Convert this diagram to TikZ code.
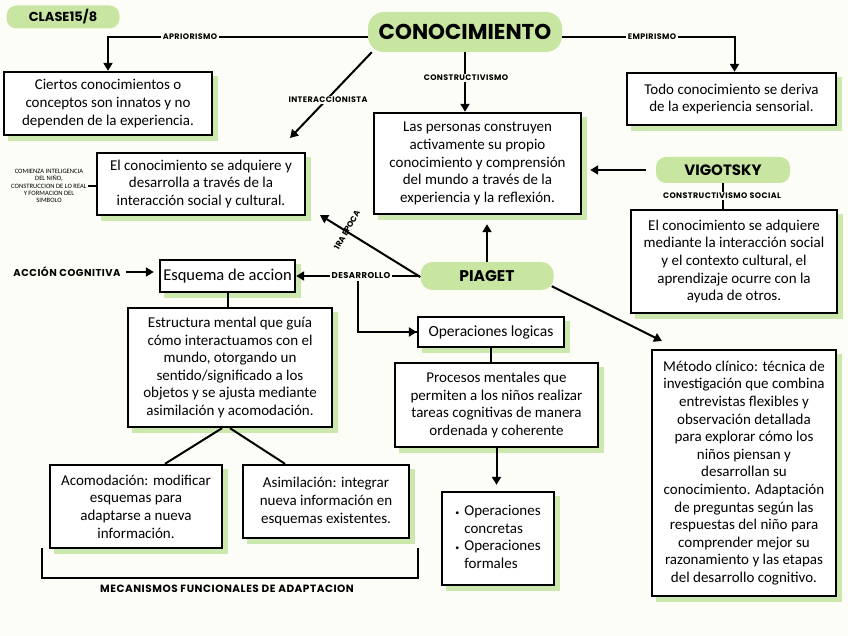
\documentclass[tikz,border=0pt]{standalone}
\usepackage{fontspec}
\setmainfont{Carlito}
\newfontfamily\lab{Poppins}[LetterSpace=5]
\newfontfamily\tit{Poppins}
\usetikzlibrary{arrows.meta,calc}
\definecolor{bg}{HTML}{FDFDF7}
\definecolor{shgreen}{HTML}{CDE8AE}
\definecolor{pillgreen}{HTML}{C8E6A2}
\pgfdeclarelayer{bgl}\pgfdeclarelayer{shl}
\pgfsetlayers{bgl,shl,main}
\begin{document}
\begin{tikzpicture}[x=1pt,y=-1pt,
  box/.style={draw=black, line width=2.4pt, fill=white, align=center,
    font=\fontsize{15}{17.6}\selectfont, inner sep=2pt},
  pill/.style={fill=pillgreen, rounded corners=10pt, align=center, inner sep=2pt},
  lab/.style={font=\lab\bfseries\fontsize{8}{9}\selectfont, fill=bg, inner sep=1.5pt},
  conn/.style={draw=black, line width=2pt},
  arr/.style={conn, -{Triangle[width=9pt,length=8pt]}}
]
\useasboundingbox (0,0) rectangle (848,636);
\begin{pgfonlayer}{bgl}
\fill[bg] (0,0) rectangle (848,636);
\end{pgfonlayer}

% pills
\node[pill, minimum width=113pt, minimum height=23pt, font=\tit\bfseries\fontsize{13}{14}\selectfont] (clase) at (63,17) {CLASE15/8};
\node[pill, minimum width=194pt, minimum height=40pt, rounded corners=16pt, font=\tit\bfseries\fontsize{21.5}{23}\selectfont] (conoc) at (465,32) {CONOCIMIENTO};
\node[pill, minimum width=134pt, minimum height=26pt, font=\tit\bfseries\fontsize{15}{16}\selectfont] (vig) at (723,170) {VIGOTSKY};
\node[pill, minimum width=133pt, minimum height=28pt, rounded corners=12pt, font=\tit\bfseries\fontsize{15.5}{16}\selectfont] (piag) at (487,276) {PIAGET};

% boxes
\node[box, minimum width=208pt, minimum height=63pt] (b1) at (108,103.5) {Ciertos conocimientos o\\conceptos son innatos y no\\dependen de la experiencia.};
\node[box, minimum width=209pt, minimum height=52pt] (b2) at (731.5,99) {Todo conocimiento se deriva\\de la experiencia sensorial.};
\node[box, minimum width=207pt, minimum height=101pt] (b3) at (477.5,163.5) {Las personas construyen\\activamente su propio\\conocimiento y comprensión\\del mundo a través de la\\experiencia y la reflexión.};
\node[box, minimum width=208pt, minimum height=62pt] (b4) at (201,184) {El conocimiento se adquiere y\\desarrolla a través de la\\interacción social y cultural.};
\node[box, minimum width=206pt, minimum height=103pt] (b5) at (734,261.5) {El conocimiento se adquiere\\mediante la interacción social\\y el contexto cultural, el\\aprendizaje ocurre con la\\ayuda de otros.};
\node[box, minimum width=135pt, minimum height=32pt, font=\fontsize{16.5}{18}\selectfont] (esq) at (227.5,276) {Esquema de accion};
\node[box, minimum width=204pt, minimum height=119pt] (b6) at (230,367.5) {Estructura mental que guía\\cómo interactuamos con el\\mundo, otorgando un\\sentido/significado a los\\objetos y se ajusta mediante\\asimilación y acomodación.};
\node[box, minimum width=146pt, minimum height=30pt, font=\fontsize{15.5}{17}\selectfont] (oplog) at (491,332) {Operaciones logicas};
\node[box, minimum width=203pt, minimum height=84pt] (b7) at (496.5,405) {Procesos mentales que\\permiten a los niños realizar\\tareas cognitivas de manera\\ordenada y coherente};
\node[box, minimum width=184pt, minimum height=246pt] (b8) at (744,473) {Método clínico: técnica de\\investigación que combina\\entrevistas flexibles y\\observación detallada\\para explorar cómo los\\niños piensan y\\desarrollan su\\conocimiento. Adaptación\\de preguntas según las\\respuestas del niño para\\comprender mejor su\\razonamiento y las etapas\\del desarrollo cognitivo.};
\node[box, minimum width=172pt, minimum height=83pt] (b9) at (136,506.5) {Acomodación: modificar\\esquemas para\\adaptarse a nueva\\información.};
\node[box, minimum width=166pt, minimum height=73pt] (b10) at (326,501.5) {Asimilación: integrar\\nueva información en\\esquemas existentes.};
\node[box, minimum width=112pt, minimum height=93pt, align=left] (b11) at (498,538.5) {\begin{tabular}{@{}l@{\hspace{5pt}}l@{}}{\fontsize{8}{10}\selectfont\textbullet} & Operaciones\\ & concretas\\ {\fontsize{8}{10}\selectfont\textbullet} & Operaciones\\ & formales\end{tabular}};

% green shadows
\begin{pgfonlayer}{shl}
\foreach \n in {b1,b2,b3,b4,b5,b6,b7,b8,b9,b10,b11,esq,oplog}
  \fill[shgreen] ([shift={(5pt,-5pt)}]\n.south west) rectangle ([shift={(5pt,-5pt)}]\n.north east);
\end{pgfonlayer}

% side texts
\node[align=center, font=\fontsize{6.6}{7.4}\selectfont, inner sep=1pt] (comienza) at (49,186) {COMIENZA INTELIGENCIA\\DEL NIÑO,\\CONSTRUCCION DE LO REAL\\Y FORMACION DEL\\SIMBOLO};
\node[font=\lab\bfseries\fontsize{10}{11}\selectfont, inner sep=1pt] (accion) at (67,272) {ACCIÓN COGNITIVA};

% coordinates
\coordinate (iend) at (290,138);
\coordinate (epend) at (320,215);
\coordinate (metend) at (662,341);
\coordinate (brA) at (42,548);
\coordinate (brB) at (418,548);

% connectors
\draw[arr] ([yshift=-5pt]conoc.west) -| (b1.north);
\draw[arr] ([yshift=-5pt]conoc.east) -| ([xshift=3pt]b2.north);
\draw[arr] (conoc.south) -- (conoc.south |- b3.north);
\draw[arr] ([xshift=4pt]conoc.south west) -- (iend);
\draw[arr, shorten <=10pt, shorten >=8pt] (vig.west) -- (b3.east |- vig.west);
\draw[conn] (vig.south) -- (vig.south |- b5.north);
\draw[arr, shorten >=9pt] (piag.north) -- (piag.north |- b3.south);
\draw[arr] (piag.west) -- (esq.east);
\draw[arr, shorten <=4pt, shorten >=5pt] (accion.east) -- (accion.east -| esq.west);
\draw[conn] (esq.south) -- (esq.south |- b6.north);
\draw[conn] ([xshift=-8pt]b6.south) -- ([xshift=29pt]b9.north);
\draw[conn] ([xshift=0pt]b6.south) -- ([xshift=-41pt]b10.north);
\draw[conn] (oplog.south) -- (oplog.south |- b7.north);
\draw[arr, shorten >=6pt] (b7.south) -- (b7.south |- b11.north);
\draw[arr] ([xshift=-2pt,yshift=4pt]piag.south east) -- (metend);
\draw[conn, line width=1.5pt] (comienza.east) -- (b4.west |- comienza.east);
\draw[conn] (brA) -- ++(0,30) -| (brB);

% labels on connectors
\node[lab] (lapr) at (190,37) {APRIORISMO};
\node[lab] (lemp) at (652,37) {EMPIRISMO};
\node[lab] (lcons) at (466,78) {CONSTRUCTIVISMO};
\node[lab] (linter) at (328,100) {INTERACCIONISTA};
\node[lab] (lsoc) at (722,196) {CONSTRUCTIVISMO SOCIAL};
\node[lab, font=\lab\bfseries\fontsize{8.5}{9}\selectfont] (ldes) at (361,276) {DESARROLLO};
\draw[conn] ([xshift=-3pt]ldes.south) |- ([yshift=0pt]oplog.west);
\draw[arr] ([xshift=-3pt]ldes.south |- oplog.west) ++(40,0) -- (oplog.west);
\node[font=\tit\bfseries\fontsize{8}{9}\selectfont, inner sep=0.5pt, rotate=60] (lepo) at (347,230) {1RA EPOCA};
\draw[arr] ([yshift=-1pt]piag.west) -- (epend);
\node[font=\lab\bfseries\fontsize{10.5}{11}\selectfont, inner sep=1pt] (lmec) at (227,589) {MECANISMOS FUNCIONALES DE ADAPTACION};
\end{tikzpicture}
\end{document}
